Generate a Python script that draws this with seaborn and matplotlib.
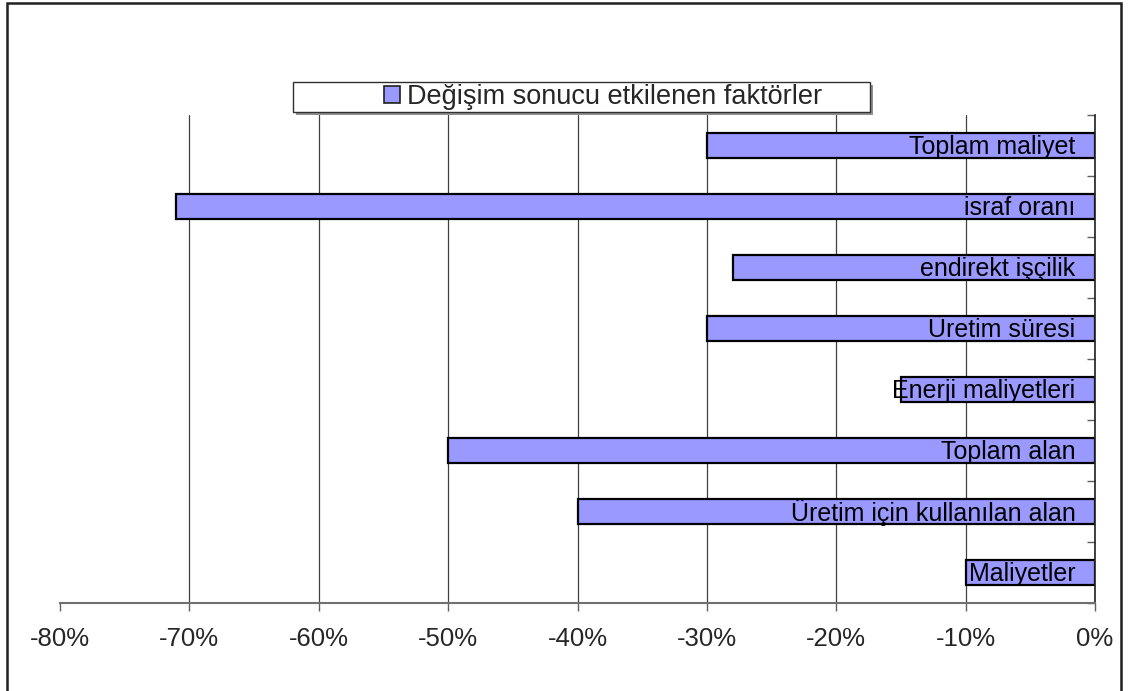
import matplotlib
matplotlib.use("Agg")
import matplotlib.pyplot as plt
from matplotlib.patches import Rectangle
import seaborn as sns
import pandas as pd

# data
factors = ["Toplam maliyet", "israf oranı", "endirekt işçilik", "Üretim süresi",
           "Enerji maliyetleri", "Toplam alan", "Üretim için kullanılan alan", "Maliyetler"]
change_pct = [-30, -71, -28, -30, -15, -50, -40, -10]
x_ticks = [-80, -70, -60, -50, -40, -30, -20, -10, 0]
legend_label = "Değişim sonucu etkilenen faktörler"

df = pd.DataFrame({"factor": factors, "change": change_pct})

sns.set_style("white")
plt.rcParams["font.family"] = ["Liberation Sans", "DejaVu Sans"]

W, H = 1128, 691
fig = plt.figure(figsize=(W / 100, H / 100), dpi=100)
ax = fig.add_axes([60 / W, 1 - 603 / H, (1095 - 60) / W, (603 - 115) / H])

bar_color = "#9999FF"
sns.barplot(data=df, x="change", y="factor", orient="h", color=bar_color,
            edgecolor="black", linewidth=1.6, width=0.41, saturation=1, ax=ax)

# labels inside the bars, right aligned near 0
for i, name in enumerate(factors):
    ax.text(-1.5, i + 0.02, name, ha="right", va="center", fontsize=18, color="black", zorder=5)

ax.set_xlim(-80, 0)
ax.set_ylim(len(factors) - 0.5, -0.5)
ax.set_xticks(x_ticks)
ax.set_xticklabels([f"{t}%" for t in x_ticks], fontsize=18.5)
ax.set_yticks([i - 0.5 for i in range(len(factors) + 1)])
ax.set_yticklabels([])
ax.set_xlabel("")
ax.set_ylabel("")

ax.grid(axis="x", color="#404040", linewidth=0.9)
ax.grid(axis="y", visible=False)
ax.xaxis.get_gridlines()[0].set_visible(False)
ax.set_axisbelow(True)

ax.yaxis.tick_right()
ax.tick_params(axis="y", direction="in", length=6, width=1, color="#606060", right=True, left=False)
ax.tick_params(axis="x", direction="out", length=6, width=1, color="#606060", bottom=True, pad=11)

for s in ["left", "top"]:
    ax.spines[s].set_visible(False)
ax.spines["bottom"].set_color("#707070")
ax.spines["bottom"].set_linewidth(1.5)
ax.spines["right"].set_color("#202020")
ax.spines["right"].set_linewidth(1.2)

# legend box like the original
fig.patches.append(Rectangle((296 / W, 1 - 115 / H), (870 - 293) / W, (112 - 82) / H,
                             transform=fig.transFigure, facecolor="#909090", edgecolor="none", zorder=1))
fig.patches.append(Rectangle((293 / W, 1 - 112 / H), (870 - 293) / W, (112 - 82) / H,
                             transform=fig.transFigure, facecolor="white", edgecolor="#303030",
                             linewidth=1, zorder=2))
handle = Rectangle((0, 0), 1, 1, facecolor=bar_color, edgecolor="#202020", linewidth=1.2)
leg = fig.legend([handle], [legend_label], loc="center", bbox_to_anchor=(603 / W, 1 - 97 / H),
                 frameon=False, fontsize=19.5, handlelength=0.6, handleheight=0.6, handletextpad=0.25,
                 borderpad=0)
leg.set_zorder(3)

# outer chart border
fig.patches.append(Rectangle((7 / W, -0.01), (1121 - 7) / W, 1 - 3 / H + 0.01,
                             transform=fig.transFigure, facecolor="none", edgecolor="#202020",
                             linewidth=1.8, zorder=0))

fig.savefig("out.png", dpi=100)
